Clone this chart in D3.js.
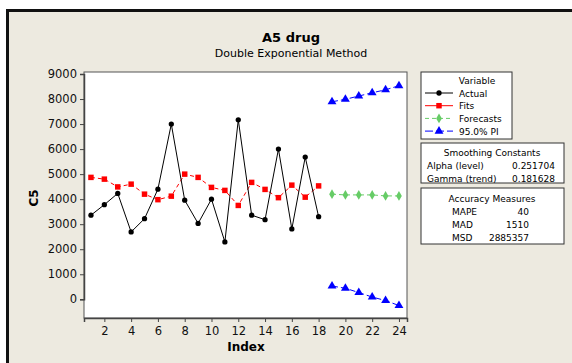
<!DOCTYPE html>
<html>
<head>
<meta charset="utf-8">
<script src="https://cdn.jsdelivr.net/npm/d3@7"></script>
<style>
  body { margin: 0; background: #fff; }
  text { font-family: "DejaVu Sans", sans-serif; }
</style>
</head>
<body>
<div id="chart"></div>
<script>
// data
const actualIdx = d3.range(1, 19);
const actual = [3360, 3780, 4230, 2690, 3220, 4400, 7000, 3960, 3030, 4000, 2290, 7170, 3360, 3180, 6000, 2810, 5680, 3300];
const fits = [4870, 4800, 4490, 4600, 4200, 3980, 4120, 5000, 4870, 4470, 4350, 3750, 4670, 4390, 4060, 4560, 4080, 4530];
const foreIdx = [19, 20, 21, 22, 23, 24];
const forecasts = [4200, 4170, 4170, 4170, 4130, 4130];
const upperPI = [7890, 7990, 8120, 8250, 8370, 8530];
const lowerPI = [530, 440, 270, 90, -50, -250];
const yTicks = [0, 1000, 2000, 3000, 4000, 5000, 6000, 7000, 8000, 9000];
const xTicks = [2, 4, 6, 8, 10, 12, 14, 16, 18, 20, 22, 24];
const legendItems = ["Actual", "Fits", "Forecasts", "95.0% PI"];
const smoothing = [["Alpha (level)", "0.251704"], ["Gamma (trend)", "0.181628"]];
const accuracy = [["MAPE", "40"], ["MAD", "1510"], ["MSD", "2885357"]];

function main() {
    const W = 572, H = 363;
    const svg = d3.select("#chart").append("svg")
        .attr("width", W).attr("height", H);

    // outer frame
    svg.append("rect").attr("x", 6).attr("y", 9).attr("width", W - 6).attr("height", H - 9)
        .attr("fill", "#edeae0");
    svg.append("rect").attr("x", 6).attr("y", 9).attr("width", W - 6).attr("height", 3).attr("fill", "#111");
    svg.append("rect").attr("x", 6).attr("y", 9).attr("width", 3).attr("height", H - 9).attr("fill", "#111");

    const left = 84, top = 72, right = 407, bottom = 318;
    const x = d3.scaleLinear().domain([0.48, 24.6]).range([left, right]);
    const y = d3.scaleLinear().domain([0, 9000]).range([299.3, 74]);

    svg.append("rect").attr("x", left).attr("y", top)
        .attr("width", right - left).attr("height", bottom - top)
        .attr("fill", "#fff").attr("stroke", "#555").attr("stroke-width", 1);

    // axes
    const yAxis = svg.append("g").attr("transform", `translate(${left},0)`)
        .call(d3.axisLeft(y).tickValues(yTicks).tickSize(4).tickFormat(d3.format("d")));
    const xAxis = svg.append("g").attr("transform", `translate(0,${bottom})`)
        .call(d3.axisBottom(x).tickValues(xTicks).tickSize(4).tickPadding(5));
    [yAxis, xAxis].forEach(function(a) {
        a.select(".domain").attr("stroke", "#444").attr("stroke-width", 1.5);
        a.selectAll(".tick line").attr("stroke", "#444");
        a.selectAll(".tick text").attr("fill", "#111").style("font-size", "11.5px")
            .style("font-family", "DejaVu Sans, sans-serif");
    });

    // titles
    svg.append("text").attr("x", 291).attr("y", 42).attr("text-anchor", "middle")
        .style("font-size", "13px").style("font-weight", "bold").text("A5 drug");
    svg.append("text").attr("x", 291).attr("y", 57).attr("text-anchor", "middle")
        .style("font-size", "11px").text("Double Exponential Method");
    svg.append("text").attr("x", 246).attr("y", 351).attr("text-anchor", "middle")
        .style("font-size", "12px").style("font-weight", "bold").text("Index");
    svg.append("text").attr("transform", "translate(38,198) rotate(-90)").attr("text-anchor", "middle")
        .style("font-size", "12px").style("font-weight", "bold").text("C5");

    const line = d3.line().x(d => x(d[0])).y(d => y(d[1]));
    const zipA = actualIdx.map((d, i) => [d, actual[i]]);
    const zipF = actualIdx.map((d, i) => [d, fits[i]]);
    const zipFc = foreIdx.map((d, i) => [d, forecasts[i]]);
    const zipU = foreIdx.map((d, i) => [d, upperPI[i]]);
    const zipL = foreIdx.map((d, i) => [d, lowerPI[i]]);

    const series = [
        {data: zipF, color: "#ff0000", dash: "4,3", sym: d3.symbolSquare, size: 30},
        {data: zipFc, color: "#66cc66", dash: "4,3", sym: d3.symbolDiamond, size: 28},
        {data: zipU, color: "#0000ff", dash: "6,3", sym: d3.symbolTriangle, size: 34},
        {data: zipL, color: "#0000ff", dash: "6,3", sym: d3.symbolTriangle, size: 34},
        {data: zipA, color: "#000", dash: null, sym: d3.symbolCircle, size: 22}
    ];
    series.forEach(function(s) {
        svg.append("path").datum(s.data)
            .attr("fill", "none").attr("stroke", s.color).attr("stroke-width", 1)
            .attr("stroke-dasharray", s.dash).attr("d", line);
        svg.append("g").selectAll("path").data(s.data).join("path")
            .attr("transform", d => `translate(${x(d[0])},${y(d[1])})`)
            .attr("d", d3.symbol().type(s.sym).size(s.size))
            .attr("fill", s.color);
    });

    // legend box
    const fs = "9px";
    const lg = svg.append("g");
    lg.append("rect").attr("x", 421).attr("y", 72).attr("width", 91).attr("height", 67)
        .attr("fill", "#fff").attr("stroke", "#333");
    lg.append("text").attr("x", 477).attr("y", 84).attr("text-anchor", "middle")
        .style("font-size", fs).text("Variable");
    const legSpec = [
        {color: "#000", dash: null, sym: d3.symbolCircle, size: 22},
        {color: "#ff0000", dash: null, sym: d3.symbolSquare, size: 30},
        {color: "#66cc66", dash: "4,3", sym: d3.symbolDiamond, size: 28},
        {color: "#0000ff", dash: "8,3", sym: d3.symbolTriangle, size: 34}
    ];
    legendItems.forEach(function(name, i) {
        const ly = 93 + i * 12.7;
        const s = legSpec[i];
        lg.append("line").attr("x1", 425).attr("x2", 453).attr("y1", ly).attr("y2", ly)
            .attr("stroke", s.color).attr("stroke-dasharray", s.dash);
        lg.append("path").attr("transform", `translate(439,${ly})`)
            .attr("d", d3.symbol().type(s.sym).size(s.size)).attr("fill", s.color);
        lg.append("text").attr("x", 459).attr("y", ly + 3.5).style("font-size", fs).text(name);
    });

    // smoothing constants box
    lg.append("rect").attr("x", 421).attr("y", 143).attr("width", 143).attr("height", 40)
        .attr("fill", "#fff").attr("stroke", "#333");
    lg.append("text").attr("x", 492).attr("y", 155.5).attr("text-anchor", "middle")
        .style("font-size", fs).text("Smoothing Constants");
    smoothing.forEach(function(r, i) {
        const ty = 168.5 + i * 13;
        lg.append("text").attr("x", 427).attr("y", ty).style("font-size", fs).text(r[0]);
        lg.append("text").attr("x", 555).attr("y", ty).attr("text-anchor", "end")
            .style("font-size", fs).text(r[1]);
    });

    // accuracy box
    lg.append("rect").attr("x", 421).attr("y", 188).attr("width", 143).attr("height", 56)
        .attr("fill", "#fff").attr("stroke", "#333");
    lg.append("text").attr("x", 492).attr("y", 201.5).attr("text-anchor", "middle")
        .style("font-size", fs).text("Accuracy Measures");
    accuracy.forEach(function(r, i) {
        const ty = 214.5 + i * 13.3;
        lg.append("text").attr("x", 452).attr("y", ty).style("font-size", fs).text(r[0]);
        lg.append("text").attr("x", 529).attr("y", ty).attr("text-anchor", "end")
            .style("font-size", fs).text(r[1]);
    });
}

main();
</script>
</body>
</html>
